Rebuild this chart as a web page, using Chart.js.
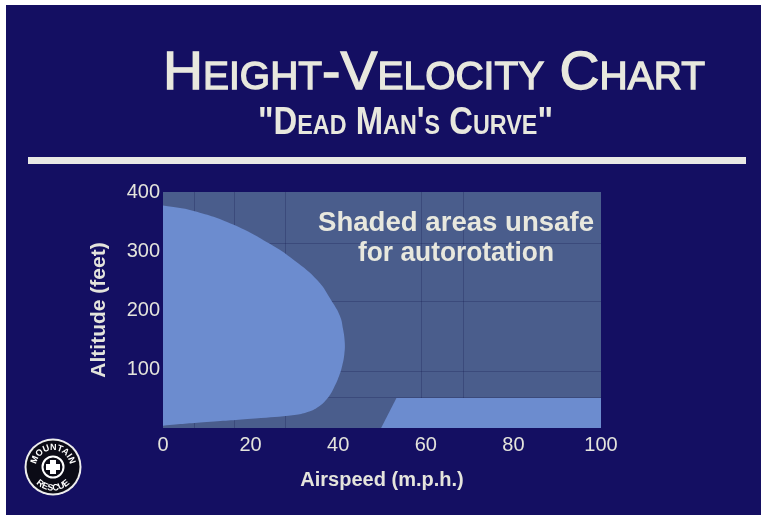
<!DOCTYPE html>
<html>
<head>
<meta charset="utf-8">
<script src="https://cdn.jsdelivr.net/npm/chart.js@4.4.0/dist/chart.umd.min.js"></script>
<style>
html,body{margin:0;padding:0;background:#fff;width:763px;height:518px;overflow:hidden;}
#frame{position:absolute;left:6px;top:5px;width:755px;height:510px;background:#140f62;}
#wrap{position:absolute;left:0;top:0;width:763px;height:518px;}
.txt{position:absolute;white-space:nowrap;color:#e8e8de;font-family:"Liberation Sans",Arial,sans-serif;transform-origin:0 0;}
#title{font-size:54px;font-variant:small-caps;line-height:54px;-webkit-text-stroke:1.3px #e8e8de;}
#subtitle{font-size:38px;font-weight:bold;font-variant:small-caps;line-height:38px;}
#rule{position:absolute;left:28px;top:157px;width:718px;height:7px;background:#e8e8e4;}
.note{font-size:27px;font-weight:bold;line-height:30px;}
#logo{position:absolute;left:23px;top:437px;}
</style>
</head>
<body>
<div id="frame"></div>
<div id="wrap"><canvas id="grafica" width="763" height="518"></canvas></div>
<div class="txt" id="title">Height-Velocity Chart</div>
<div class="txt" id="subtitle">"Dead Man's Curve"</div>
<div id="rule"></div>
<div class="txt note" id="note1">Shaded areas unsafe</div>
<div class="txt note" id="note2">for autorotation</div>
<svg id="logo" width="60" height="60" viewBox="0 0 60 60">
  <defs>
    <path id="arcTop" d="M 13 30 A 17 17 0 0 1 47 30"/>
    <path id="arcBot" d="M 6.5 30 A 23.5 23.5 0 0 0 53.5 30"/>
  </defs>
  <circle cx="30" cy="30" r="28.5" fill="#eeeeee"/>
  <circle cx="30" cy="30" r="26.5" fill="#0b0b16"/>
  <text font-family="Liberation Sans" font-weight="bold" font-size="9" fill="#fff"><textPath href="#arcTop" startOffset="50%" text-anchor="middle">MOUNTAIN</textPath></text>
  <text font-family="Liberation Sans" font-weight="bold" font-size="9" fill="#fff"><textPath href="#arcBot" startOffset="50%" text-anchor="middle">RESCUE</textPath></text>
  <circle cx="30" cy="30" r="10.5" fill="none" stroke="#fff" stroke-width="2"/>
  <path d="M27 23h6v4h4v6h-4v4h-6v-4h-4v-6h4z" fill="#fff"/>
</svg>
<script>
// datos (mph, pies)
const curvaIzqX=[0,7,16,24.2,30,35.3,38.6,40.4,41.1,41.5,41.4,40.9,40.2,39,37.5,35.5,33,30,21,10,0];
const curvaIzqY=[377,368,345,313,284,250,214,190,168,145,125,105,88,68,50,36,27,22,16,10,4];
const curvaDerX=[49.8,53.3,100];
const curvaDerY=[0,51,51];
const ticksX=[0,20,40,60,80,100];
const ticksY=[100,200,300,400];
const rejillaX=[7.3,16.4,27.9,59.1,68.5];
const rejillaY=[51,95,215,313];

const texto='#e4e4dc';
const fuente='"Liberation Sans", Arial, sans-serif';
const colorRejilla='rgba(20,25,80,0.28)';

function puntos(xs,ys){
    return xs.map((x,i)=>({x:x,y:ys[i]}));
}

const fondoPlot={
    id:'fondoPlot',
    beforeDraw(chart){
        const {ctx,chartArea:a}=chart;
        ctx.save();
        ctx.fillStyle='#4a5d8c';
        ctx.fillRect(a.left,a.top,a.right-a.left,a.bottom-a.top);
        ctx.restore();
    }
};

new Chart(document.getElementById('grafica'),{
    type:'scatter',
    data:{
        datasets:[{
            data:puntos(curvaIzqX,curvaIzqY),
            showLine:true,
            fill:'shape',
            backgroundColor:'#6c8ccf',
            borderWidth:0,
            pointRadius:0,
            tension:0.45
        },{
            data:puntos(curvaDerX,curvaDerY),
            showLine:true,
            fill:'origin',
            backgroundColor:'#6c8ccf',
            borderWidth:0,
            pointRadius:0,
            tension:0
        }]
    },
    options:{
        responsive:false,
        animation:false,
        layout:{padding:{left:87,top:192,right:162,bottom:26}},
        plugins:{legend:{display:false},tooltip:{enabled:false}},
        scales:{
            x:{
                type:'linear',min:0,max:100,position:'bottom',
                grid:{display:false,drawTicks:false},border:{display:false},
                afterBuildTicks(s){s.ticks=ticksX.map(v=>({value:v}));},
                ticks:{padding:5,color:texto,font:{family:fuente,size:20}},
                title:{display:true,text:'Airspeed (m.p.h.)',color:texto,padding:0,font:{family:fuente,size:20,weight:'bold'}},
                afterFit(s){s.height=64;}
            },
            xg:{
                type:'linear',min:0,max:100,position:'bottom',z:1,
                border:{display:false},
                grid:{color:colorRejilla,drawTicks:false},
                ticks:{display:false},
                afterBuildTicks(s){s.ticks=rejillaX.map(v=>({value:v}));},
                afterFit(s){s.height=0;}
            },
            y:{
                type:'linear',min:0,max:400,position:'left',
                grid:{display:false,drawTicks:false},border:{display:false},
                afterBuildTicks(s){s.ticks=ticksY.map(v=>({value:v}));},
                ticks:{padding:3,color:texto,font:{family:fuente,size:20}},
                title:{display:true,text:'Altitude (feet)',color:texto,padding:0,font:{family:fuente,size:21,weight:'bold'}},
                afterFit(s){s.width=76;}
            },
            yg:{
                type:'linear',min:0,max:400,position:'left',z:1,
                border:{display:false},
                grid:{color:colorRejilla,drawTicks:false},
                ticks:{display:false},
                afterBuildTicks(s){s.ticks=rejillaY.map(v=>({value:v}));},
                afterFit(s){s.width=0;}
            }
        }
    },
    plugins:[fondoPlot]
});

// ajustar textos al ancho de la imagen
function ajustar(id,izq,ancho,arriba){
    let el=document.getElementById(id);
    let w=el.getBoundingClientRect().width;
    el.style.left=izq+'px';
    el.style.top=arriba+'px';
    el.style.transform='scaleX('+(ancho/w)+')';
}
ajustar('title',163,542,43);
ajustar('subtitle',258,295,102);
ajustar('note1',318,276,207);
ajustar('note2',358,196,237);
</script>
</body>
</html>
